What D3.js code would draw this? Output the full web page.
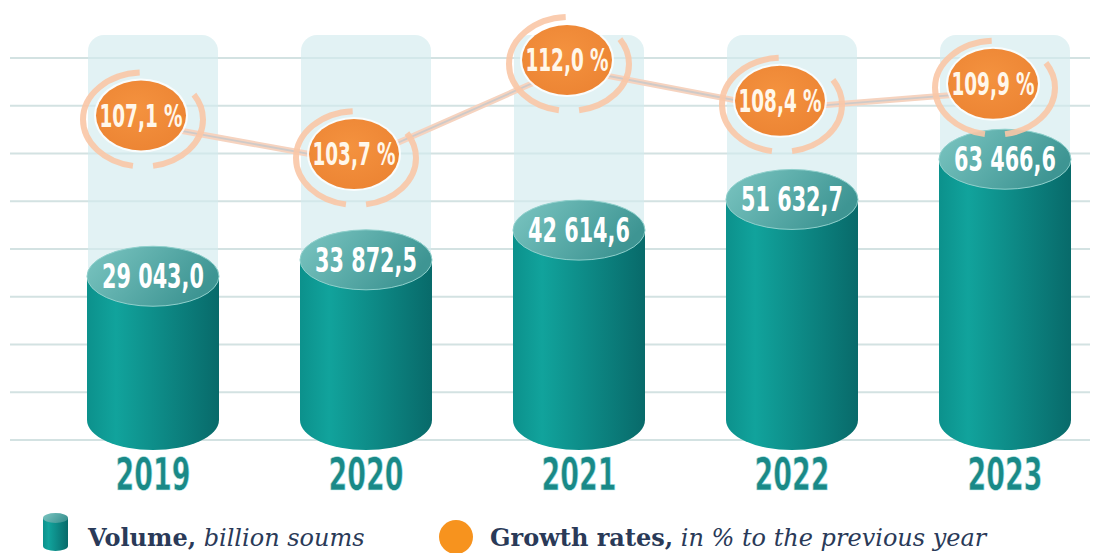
<!DOCTYPE html>
<html>
<head>
<meta charset="utf-8">
<script src="https://cdn.jsdelivr.net/npm/d3@7"></script>
<style>
  body { margin: 0; background: #ffffff; }
  svg { display: block; }
</style>
</head>
<body>
<svg id="chart" width="1097" height="553"></svg>
<script>
// Volume of services, billion soums, and growth rates, % to the previous year
const years = ["2019", "2020", "2021", "2022", "2023"];
const volume = [29043.0, 33872.5, 42614.6, 51632.7, 63466.6];
const growth = [107.1, 103.7, 112.0, 108.4, 109.9];
const legendVolume = ["Volume,", " billion soums"];
const legendGrowth = ["Growth rates,", " in % to the previous year"];

const W = 1097, H = 553;
const svg = d3.select("#chart");
const defs = svg.append("defs");

const ru = d3.formatLocale({ decimal: ",", thousands: " ", grouping: [3], currency: ["", ""] });
const fmtVol = ru.format(",.1f");
const fmtPct = d => ru.format(".1f")(d) + " %";

const condensed = "'Liberation Sans Narrow', 'DejaVu Sans Condensed', 'DejaVu Sans', sans-serif";

// scales
const x = d3.scalePoint().domain(years).range([153, 1005]);
const yVol = d3.scaleLinear().domain([0, 70000]).range([375, 137]);
const yRate = d3.scaleLinear().domain([100, 115]).range([196, 26]);

const baseY = 420;   // centre of the cylinder floor ellipse
const rx = 66, ry = 30;
const colTop = 35;
const circleShift = -12;

// gradients
const body = defs.append("linearGradient").attr("id", "cylBody").attr("x1", 0).attr("x2", 1);
body.append("stop").attr("offset", "0%").attr("stop-color", "#0c918c");
body.append("stop").attr("offset", "22%").attr("stop-color", "#11a39c");
body.append("stop").attr("offset", "100%").attr("stop-color", "#086a6a");

const topG = defs.append("linearGradient").attr("id", "cylTop").attr("x1", 0).attr("x2", 1).attr("y1", 0).attr("y2", 0.4);
topG.append("stop").attr("offset", "0%").attr("stop-color", "#7cc6c2");
topG.append("stop").attr("offset", "100%").attr("stop-color", "#3e9593");

const orangeG = defs.append("radialGradient").attr("id", "orangeFill").attr("cx", "45%").attr("cy", "40%").attr("r", "65%");
orangeG.append("stop").attr("offset", "0%").attr("stop-color", "#f4923f");
orangeG.append("stop").attr("offset", "100%").attr("stop-color", "#ec8433");

// horizontal guide lines
svg.append("g").selectAll("line")
  .data(d3.range(9))
  .join("line")
  .attr("x1", 10).attr("x2", 1090)
  .attr("y1", i => 58 + i * 47.75)
  .attr("y2", i => 58 + i * 47.75)
  .attr("stroke", "#d3e2e2")
  .attr("stroke-width", 2);

// pale background columns
svg.append("g").selectAll("rect")
  .data(years)
  .join("rect")
  .attr("x", d => x(d) - 65)
  .attr("y", colTop)
  .attr("width", 130)
  .attr("height", baseY - colTop)
  .attr("rx", 16)
  .attr("fill", "#d3ebee")
  .attr("opacity", 0.65);

// cylinders
const cyl = svg.append("g").selectAll("g")
  .data(years.map((y, i) => ({ year: y, v: volume[i] })))
  .join("g");

cyl.append("path")
  .attr("d", d => {
    const cx = x(d.year), t = yVol(d.v);
    return `M${cx - rx},${t} L${cx - rx},${baseY} A${rx},${ry} 0 0 0 ${cx + rx},${baseY} L${cx + rx},${t} Z`;
  })
  .attr("fill", "url(#cylBody)");

cyl.append("ellipse")
  .attr("cx", d => x(d.year))
  .attr("cy", d => yVol(d.v))
  .attr("rx", rx).attr("ry", ry)
  .attr("fill", "url(#cylTop)")
  .attr("stroke", "#8fd0cc")
  .attr("stroke-width", 1);

cyl.append("text")
  .attr("transform", d => `translate(${x(d.year)},${yVol(d.v) + 12}) scale(0.7,1)`)
  .attr("text-anchor", "middle")
  .attr("font-family", condensed)
  .attr("font-weight", "bold")
  .attr("font-size", 33)
  .attr("fill", "#ffffff")
  .text(d => fmtVol(d.v));

// year labels
svg.append("g").selectAll("text")
  .data(years)
  .join("text")
  .attr("transform", d => `translate(${x(d)},490) scale(0.68,1)`)
  .attr("text-anchor", "middle")
  .attr("font-family", condensed)
  .attr("font-weight", "bold")
  .attr("font-size", 44)
  .attr("fill", "#1a8987")
  .attr("stroke", "#c9f1f1")
  .attr("stroke-width", 0.6)
  .text(d => d);

// growth-rate line
const pts = years.map((y, i) => ({ year: y, v: growth[i], px: x(y) + circleShift, py: yRate(growth[i]) }));
const line = d3.line().x(d => d.px).y(d => d.py + 8);
svg.append("path").datum(pts).attr("d", line)
  .attr("fill", "none").attr("stroke", "#f6d3bf").attr("stroke-width", 6);
svg.append("path").datum(pts).attr("d", line)
  .attr("fill", "none").attr("stroke", "#cfcac8").attr("stroke-width", 1.8);

// growth-rate bubbles with decorative rings
const bub = svg.append("g").selectAll("g").data(pts).join("g")
  .attr("transform", d => `translate(${d.px},${d.py})`);

bub.append("ellipse")
  .attr("cx", 2).attr("cy", 4)
  .attr("rx", 60).attr("ry", 47)
  .attr("fill", "none")
  .attr("stroke", "#f9c6a6")
  .attr("stroke-width", 6)
  .attr("opacity", 0.9)
  .attr("pathLength", 100)
  .attr("stroke-dasharray", "30 6 46 18")
  .attr("stroke-dashoffset", 8);

bub.append("ellipse")
  .attr("rx", 47).attr("ry", 37)
  .attr("fill", "#ffffff")
  .attr("opacity", 0.8);

bub.append("ellipse")
  .attr("rx", 45).attr("ry", 35)
  .attr("fill", "url(#orangeFill)");

bub.append("text")
  .attr("transform", "translate(0,11) scale(0.64,1)")
  .attr("text-anchor", "middle")
  .attr("font-family", condensed)
  .attr("font-weight", "bold")
  .attr("font-size", 32)
  .attr("fill", "#fff7ea")
  .text(d => fmtPct(d.v));

// legend
const lg = svg.append("g");
lg.append("path")
  .attr("d", "M43,518 L43,546 A12.5,5 0 0 0 68,546 L68,518 Z")
  .attr("fill", "url(#cylBody)");
lg.append("ellipse").attr("cx", 55.5).attr("cy", 518).attr("rx", 12.5).attr("ry", 5)
  .attr("fill", "url(#cylTop)");

const t1 = lg.append("text").attr("x", 88).attr("y", 546)
  .attr("font-family", "'DejaVu Serif', serif").attr("font-size", 24).attr("fill", "#2a3a58");
t1.append("tspan").attr("font-weight", "bold").text(legendVolume[0]);
t1.append("tspan").attr("font-style", "italic").text(legendVolume[1]);

lg.append("circle").attr("cx", 456).attr("cy", 537).attr("r", 17).attr("fill", "#f7931e");
const t2 = lg.append("text").attr("x", 490).attr("y", 546)
  .attr("font-family", "'DejaVu Serif', serif").attr("font-size", 24).attr("fill", "#2a3a58");
t2.append("tspan").attr("font-weight", "bold").text(legendGrowth[0]);
t2.append("tspan").attr("font-style", "italic").text(legendGrowth[1]);
</script>
</body>
</html>
